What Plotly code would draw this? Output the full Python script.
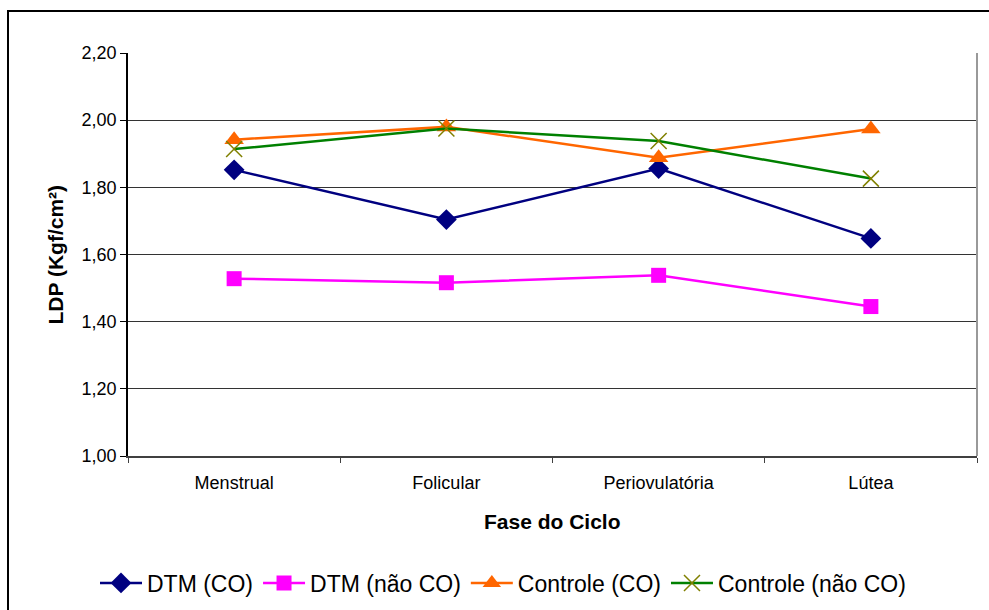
import plotly.graph_objects as go

categories = ["Menstrual", "Folicular", "Periovulatória", "Lútea"]
dtm_co = [1.852, 1.704, 1.856, 1.648]
dtm_nao_co = [1.528, 1.516, 1.538, 1.445]
controle_co = [1.942, 1.980, 1.888, 1.974]
controle_nao_co = [1.914, 1.975, 1.938, 1.826]
y_ticks = [1.0, 1.2, 1.4, 1.6, 1.8, 2.0, 2.2]
y_tick_labels = ["1,00", "1,20", "1,40", "1,60", "1,80", "2,00", "2,20"]
x_title = "Fase do Ciclo"
y_title = "LDP (Kgf/cm²)"

font = "Liberation Sans, Arial, sans-serif"

fig = go.Figure()
fig.add_trace(go.Scatter(x=categories, y=dtm_co, name="DTM (CO)", mode="lines+markers",
                         line=dict(color="#000080", width=2.5),
                         marker=dict(symbol="diamond", size=16, color="#000080")))
fig.add_trace(go.Scatter(x=categories, y=dtm_nao_co, name="DTM (não CO)", mode="lines+markers",
                         line=dict(color="#FF00FF", width=2.5),
                         marker=dict(symbol="square", size=15, color="#FF00FF")))
fig.add_trace(go.Scatter(x=categories, y=controle_co, name="Controle (CO)", mode="lines+markers",
                         line=dict(color="#FF6600", width=2.5),
                         marker=dict(symbol="triangle-up", size=17, color="#FF6600")))
fig.add_trace(go.Scatter(x=categories, y=controle_nao_co, name="Controle (não CO)", mode="lines+markers",
                         line=dict(color="#008000", width=2.5),
                         marker=dict(symbol="x-thin-open", size=16, color="#808000",
                                     line=dict(color="#808000", width=1.5))))

fig.update_layout(
    width=989, height=610,
    margin=dict(l=128, r=12, t=53, b=154),
    paper_bgcolor="white", plot_bgcolor="white",
    font=dict(family=font, color="black", size=18),
    showlegend=True,
    legend=dict(orientation="h", xref="container", x=503 / 989, xanchor="center",
                yref="container", y=(610 - 583) / 610, yanchor="middle",
                itemwidth=42, bgcolor="rgba(0,0,0,0)",
                font=dict(size=23, family=font), tracegroupgap=0),
    shapes=[
        dict(type="rect", xref="paper", yref="paper",
             x0=(8 - 128) / 849, x1=1.05, y0=-0.5, y1=(456 - 11) / 403,
             line=dict(color="black", width=2), fillcolor="rgba(0,0,0,0)", layer="below"),
        dict(type="line", xref="paper", yref="paper", x0=1, x1=1, y0=0, y1=1,
             line=dict(color="#999999", width=2)),
    ],
    annotations=[
        dict(text="<b>" + x_title + "</b>", xref="paper", yref="paper", x=0.5,
             y=(456 - 521) / 403, yanchor="middle", xanchor="center", showarrow=False,
             font=dict(size=21)),
        dict(text="<b>" + y_title + "</b>", xref="paper", yref="paper", x=(55 - 128) / 849,
             y=0.5, yanchor="middle", xanchor="center", showarrow=False, textangle=-90,
             font=dict(size=21)),
    ],
)

fig.update_xaxes(
    type="category", range=[-0.5, 3.5], tickson="boundaries", automargin=False,
    ticks="outside", ticklen=5, tickcolor="#404040", ticklabelstandoff=10,
    showline=True, linecolor="#404040", linewidth=1.5,
    showgrid=False, tickfont=dict(size=18),
)
fig.update_yaxes(
    range=[1.0, 2.2], tickvals=y_ticks, ticktext=y_tick_labels, automargin=False,
    ticks="outside", ticklen=6, tickcolor="black",
    showline=True, linecolor="black", linewidth=1.5,
    showgrid=True, gridcolor="#333333", gridwidth=1,
    tickfont=dict(size=18), zeroline=False,
)

fig.write_html("out.html")
